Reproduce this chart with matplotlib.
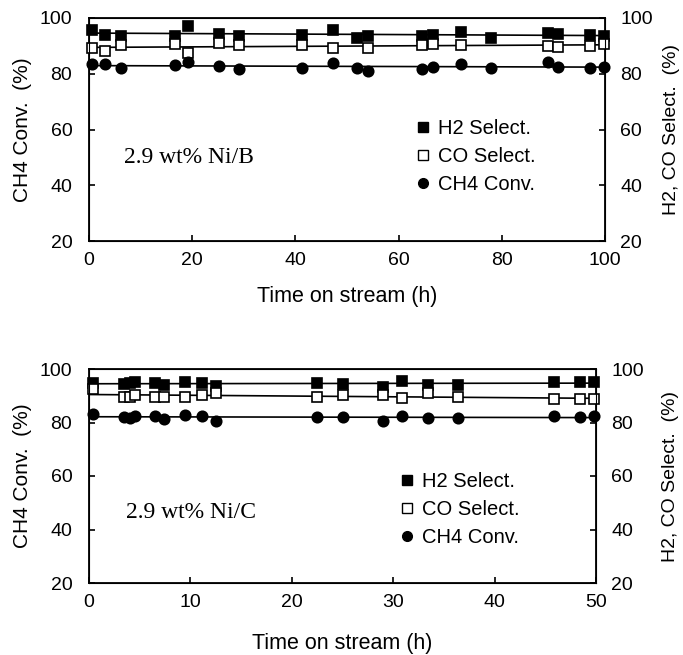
import numpy as np
import matplotlib
matplotlib.use('Agg')
import matplotlib.pyplot as plt
from matplotlib.lines import Line2D

plt.rcParams['font.family'] = ['Liberation Sans', 'DejaVu Sans']
plt.rcParams['font.size'] = 14

# --- top panel, 2.9 wt% Ni/B (0-100 h)
t_b = [0.55, 3.1, 6.2, 16.6, 19.2, 25.2, 29.1, 41.2, 47.2, 52.0, 54.0,
       64.6, 66.6, 72.0, 78.0, 88.9, 90.9, 97.0, 99.8]
h2_b = [95.8, 94.0, 93.4, 93.4, 97.3, 94.3, 93.4, 94.0, 95.8, 92.7, 93.4,
        93.4, 94.0, 94.9, 92.7, 94.5, 94.3, 94.0, 93.4]
t_b_co = [0.55, 3.1, 6.2, 16.6, 19.2, 25.2, 29.1, 41.2, 47.2, 54.0,
          64.6, 66.6, 72.0, 88.9, 90.9, 97.0, 99.8]
co_b = [89.2, 88.3, 90.2, 90.7, 87.6, 91.1, 90.4, 90.2, 89.4, 89.4,
        90.2, 90.8, 90.4, 90.1, 89.5, 90.1, 90.8]
ch4_b = [83.4, 83.4, 82.1, 83.0, 84.1, 82.8, 81.8, 82.1, 83.7, 82.1, 81.1,
         81.8, 82.5, 83.4, 82.1, 84.1, 82.4, 81.9, 82.5]

# --- bottom panel, 2.9 wt% Ni/C (0-50 h)
t_c = [0.42, 3.5, 4.0, 4.5, 6.5, 7.4, 9.5, 11.1, 12.5, 22.5, 25.0,
       29.0, 30.9, 33.4, 36.4, 45.9, 48.4, 49.8]
h2_c = [94.7, 94.4, 94.7, 95.3, 94.7, 94.0, 95.0, 94.7, 93.5, 94.7, 94.4,
        93.4, 95.7, 94.0, 94.0, 95.3, 95.0, 95.0]
co_c = [92.5, 89.5, 89.7, 90.1, 89.7, 89.7, 89.5, 90.1, 90.9, 89.7, 90.1,
        90.1, 89.1, 90.9, 89.5, 88.8, 88.8, 88.8]
ch4_c = [83.3, 82.1, 81.6, 82.6, 82.6, 81.4, 82.9, 82.3, 80.5, 82.1, 82.1,
         80.4, 82.4, 81.6, 81.6, 82.3, 82.1, 82.4]


def trend(ax, x, y, xmax):
    k, b = np.polyfit(x, y, 1)
    xx = np.array([0, xmax])
    ax.plot(xx, k * xx + b, color='black', lw=1.2, zorder=2)


def panel(ax, series, xmax, xstep, tag, tag_pos, leg_anchor, xlabel_y, llabel_x, rlabel_x):
    for (x, y, mk, fc) in series:
        trend(ax, x, y, xmax)
        ax.plot(x, y, linestyle='none', marker=mk, ms=7.5, mfc=fc,
                mec='black', mew=1.2, zorder=3, clip_on=False)
    ax.set_xlim(0, xmax)
    ax.set_ylim(20, 100)
    ax.set_xticks(np.arange(0, xmax + 1, xstep))
    ax.set_yticks([20, 40, 60, 80, 100])
    ax.tick_params(direction='in', length=4, width=1.2)
    ax.tick_params(axis='x', pad=8)
    ax.tick_params(axis='y', pad=12)
    for s in ax.spines.values():
        s.set_linewidth(1.3)
    ax.set_xlabel('Time on stream (h)', fontsize=15.5)
    ax.xaxis.set_label_coords(0.5, xlabel_y)
    ax.set_ylabel('CH4 Conv.  (%)', fontsize=15)
    ax.yaxis.set_label_coords(llabel_x, 0.5)

    ax2 = ax.twinx()
    ax2.set_ylim(20, 100)
    ax2.set_yticks([20, 40, 60, 80, 100])
    ax2.tick_params(direction='in', length=4, width=1.2, pad=11)
    ax2.set_ylabel('H2, CO Select.  (%)', fontsize=14)
    ax2.yaxis.set_label_coords(rlabel_x, 0.5)

    ax.text(tag_pos[0], tag_pos[1], tag, transform=ax.transAxes,
            family='Liberation Serif', fontsize=17, va='center', ha='left')

    handles = [Line2D([], [], ls='none', marker='s', ms=7, mfc='black', mec='black'),
               Line2D([], [], ls='none', marker='s', ms=7, mfc='white', mec='black'),
               Line2D([], [], ls='none', marker='o', ms=7, mfc='black', mec='black')]
    ax.legend(handles, ['H2 Select.', 'CO Select.', 'CH4 Conv.'],
              loc='center left', bbox_to_anchor=leg_anchor, frameon=False,
              fontsize=14.5, borderpad=0, handlelength=1.0, handletextpad=0.25,
              labelspacing=0.45, borderaxespad=0)


fig = plt.figure(figsize=(6.83, 6.55), dpi=100)
ax_top = fig.add_axes([89 / 683, 1 - 241 / 655, 516 / 683, 223 / 655])
ax_bot = fig.add_axes([89 / 683, 1 - 583 / 655, 507 / 683, 214 / 655])

panel(ax_top,
      [(t_b, h2_b, 's', 'black'), (t_b_co, co_b, 's', 'white'), (t_b, ch4_b, 'o', 'black')],
      100, 20, '2.9 wt% Ni/B', (0.068, 0.375), (0.627, 0.38), -0.2, -0.11, 1.112)
panel(ax_bot,
      [(t_c, h2_c, 's', 'black'), (t_c, co_c, 's', 'white'), (t_c, ch4_c, 'o', 'black')],
      50, 10, '2.9 wt% Ni/C', (0.073, 0.33), (0.607, 0.345), -0.235, -0.112, 1.13)

fig.savefig('out.png', dpi=100)
